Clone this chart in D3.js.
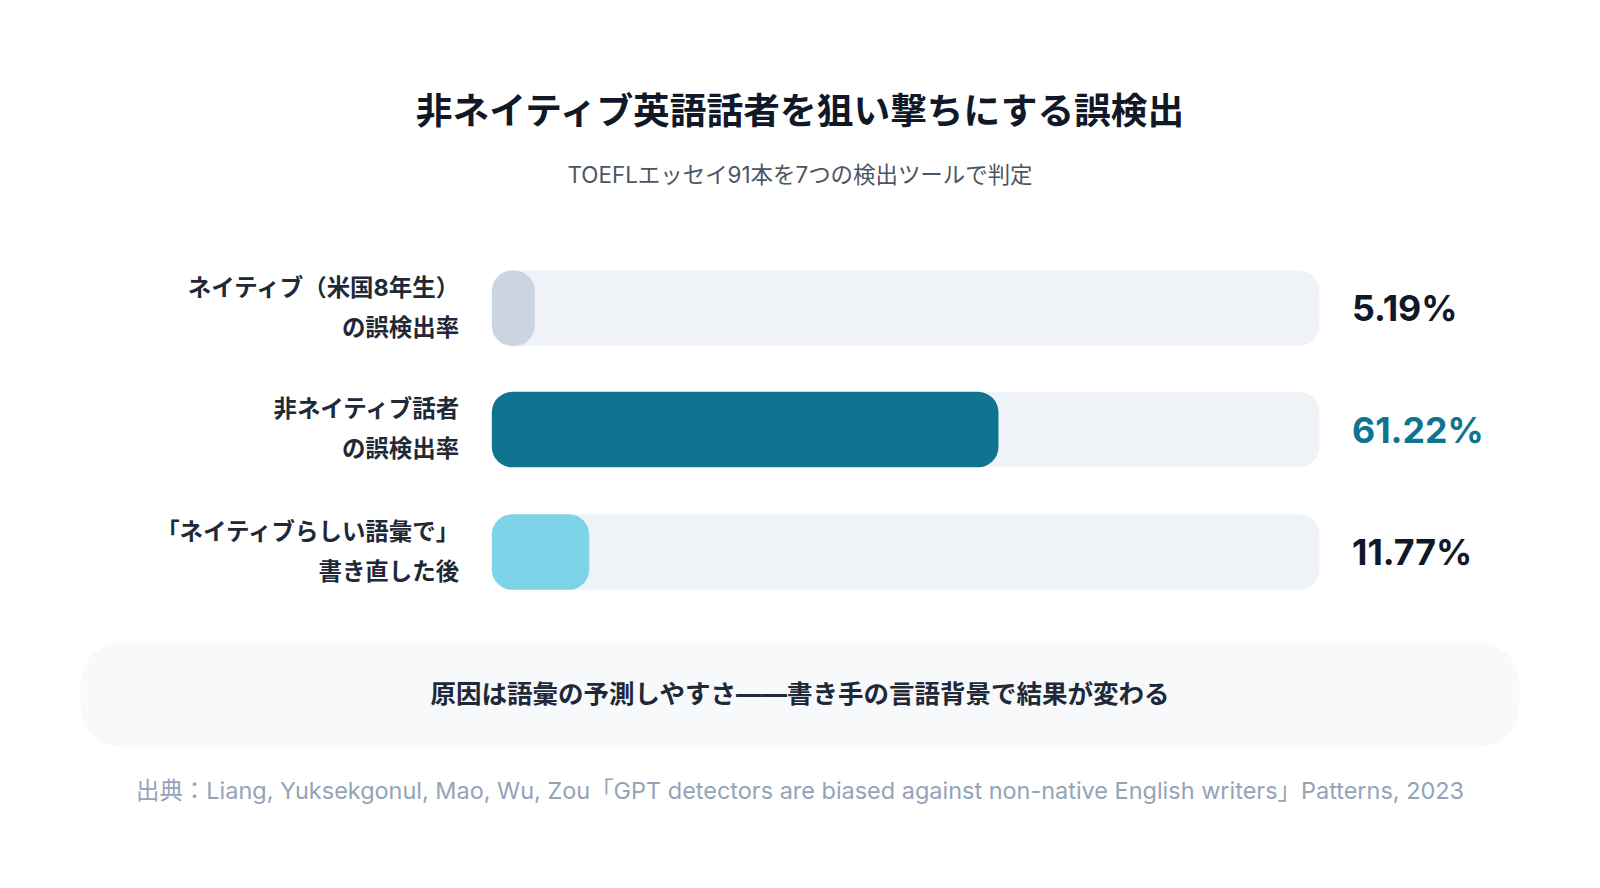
<!DOCTYPE html>
<html><head><meta charset="utf-8">
<script src="https://cdn.jsdelivr.net/npm/d3@7"></script>
<style>body{margin:0;background:#fff}svg{display:block}text{font-family:Inter,"Noto Sans CJK JP","Noto Sans",sans-serif}</style>
</head><body><svg id="c" width="1600" height="888"></svg>
<script>
const labels = [["ネイティブ（米国8年生）","の誤検出率"],["非ネイティブ話者","の誤検出率"],["「ネイティブらしい語彙で」","書き直した後"]];
const values = [5.19, 61.22, 11.77];
const valueText = ["5.19%","61.22%","11.77%"];
const barColors = ["#cbd5e1","#0f7490","#7dd3e8"];
const valueColors = ["#111827","#0f7490","#111827"];

const svg = d3.select("#c").append("g").attr("transform","scale(" + (1600/1568) + ")");
svg.append("text").attr("x",784).attr("y",122).attr("text-anchor","middle").attr("font-size",36).attr("font-weight",700).attr("fill","#111827").text("非ネイティブ英語話者を狙い撃ちにする誤検出");
svg.append("text").attr("x",784).attr("y",179).attr("text-anchor","middle").attr("font-size",22).attr("fill","#4b5563").text("TOEFLエッセイ91本を7つの検出ツールで判定");

const x = d3.scaleLinear().domain([0,100]).range([482,1293]);
const bh = 74;
const ys = [265,384,504];
values.forEach((v,i)=>{
  const g = svg.append("g");
  g.append("rect").attr("x",x(0)).attr("y",ys[i]).attr("width",x(100)-x(0)).attr("height",bh).attr("rx",20).attr("fill","#eff3f8");
  g.append("rect").attr("x",x(0)).attr("y",ys[i]).attr("width",x(v)-x(0)).attr("height",bh).attr("rx",20).attr("fill",barColors[i]);
  labels[i].forEach((l,j)=>g.append("text").attr("x",450).attr("y",ys[i]+25+j*39).attr("text-anchor","end").attr("font-size",23).attr("font-weight",700).attr("fill","#1f2937").text(l));
  g.append("text").attr("x",1325).attr("y",ys[i]+50).attr("font-size",35).attr("font-weight",700).attr("fill",valueColors[i]).text(valueText[i]);
});
svg.append("rect").attr("x",79).attr("y",630).attr("width",1410).attr("height",102).attr("rx",40).attr("fill","#f7f9fb");
svg.append("text").attr("x",784).attr("y",689).attr("text-anchor","middle").attr("font-size",25).attr("font-weight",700).attr("fill","#1f2937").text("原因は語彙の予測しやすさ——書き手の言語背景で結果が変わる");
svg.append("text").attr("x",784).attr("y",783).attr("text-anchor","middle").attr("font-size",23).attr("fill","#94a3b8").text("出典：Liang, Yuksekgonul, Mao, Wu, Zou「GPT detectors are biased against non-native English writers」Patterns, 2023");
</script></body></html>
